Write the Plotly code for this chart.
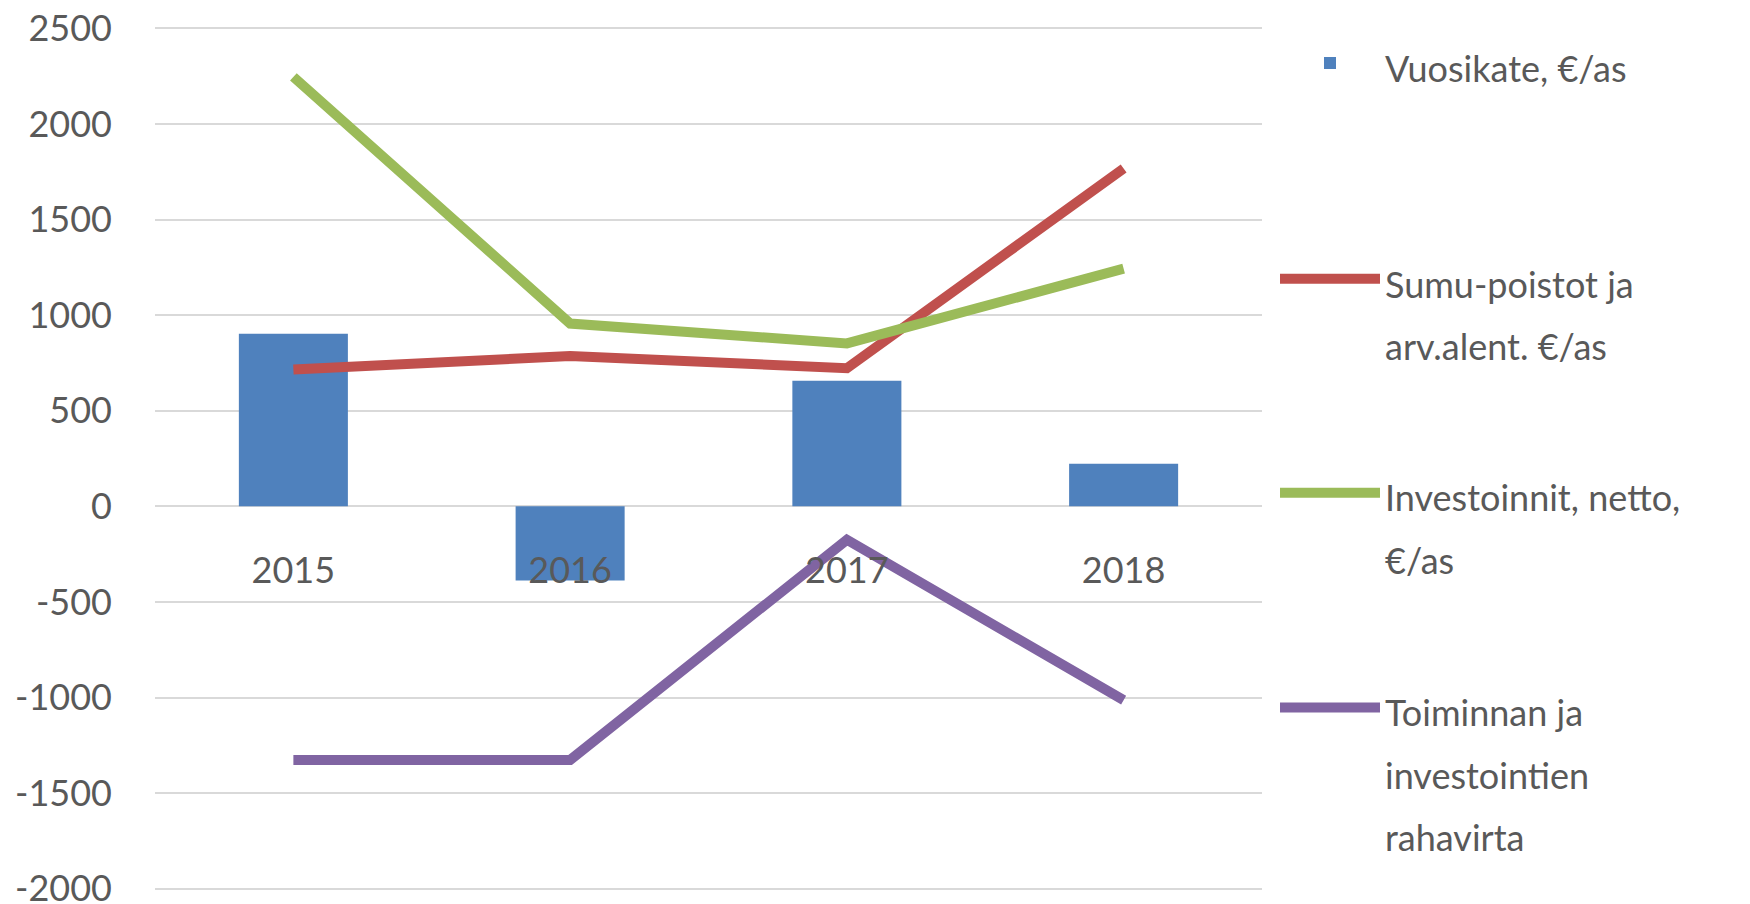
import plotly.graph_objects as go

# ---- data ----
years = ["2015", "2016", "2017", "2018"]
vuosikate = [902, -388, 656, 223]
sumu_poistot = [716, 786, 722, 1767]
investoinnit = [2246, 956, 852, 1243]
rahavirta = [-1327, -1327, -175, -1014]

names = [
    "Vuosikate, €/as",
    "Sumu-poistot ja<br>arv.alent. €/as",
    "Investoinnit, netto,<br>€/as",
    "Toiminnan ja<br>investointien<br>rahavirta",
]
colors = ["#4F81BD", "#C0504D", "#9BBB59", "#8064A2"]
y_ticks = [2500, 2000, 1500, 1000, 500, 0, -500, -1000, -1500, -2000]

# ---- layout geometry (target page pixels) ----
W, H = 1750, 904
OFF = 8                      # default body margin of the html page
TOP_TICK, BOT_TICK = 2500, -2000
TOP_PX, BOT_PX = 28, 889     # page y of the top / bottom gridlines
PAD = 12                     # data units of padding so edge gridlines show
SCALE = (BOT_PX - TOP_PX) / (TOP_TICK - BOT_TICK)
YMIN, YMAX = BOT_TICK - PAD, TOP_TICK + PAD
PL, PR = 155, 1262
PT = TOP_PX - PAD * SCALE
PB = BOT_PX + PAD * SCALE
FONT = "Lato, 'Liberation Sans', Arial, sans-serif"
GREY = "#595959"


def px_to_paper_x(px):
    return (px - PL) / (PR - PL)


def px_to_paper_y(py):
    return (PB - py) / (PB - PT)


def styled(name):
    return '<span style="font-size:36px">' + name + "</span>"


fig = go.Figure()
fig.add_trace(go.Bar(x=years, y=vuosikate, name=styled(names[0]),
                     marker=dict(color=colors[0], line=dict(width=0)),
                     legend="legend"))
series = [sumu_poistot, investoinnit, rahavirta]
for i, s in enumerate(series, start=1):
    fig.add_trace(go.Scatter(x=years, y=s, name=styled(names[i]), mode="lines",
                             line=dict(color=colors[i], width=10),
                             legend="legend" + (str(i + 1))))

legend_first_line_px = [69, 285, 499, 714]
legend_common = dict(font=dict(family=FONT, size=48, color=GREY),
                     bgcolor="rgba(0,0,0,0)", borderwidth=0,
                     xanchor="left", yanchor="top", itemwidth=100,
                     valign="top", traceorder="normal")
legends = {}
for i, cy in enumerate(legend_first_line_px):
    key = "legend" if i == 0 else "legend" + str(i + 1)
    legends[key] = dict(legend_common, x=px_to_paper_x(1275),
                        y=px_to_paper_y(cy - 44))

fig.update_layout(
    width=W, height=H,
    margin=dict(l=PL - OFF, r=W - (PR - OFF), t=PT - OFF, b=H - (PB - OFF),
                pad=0, autoexpand=False),
    paper_bgcolor="white", plot_bgcolor="white",
    font=dict(family=FONT, color=GREY),
    bargap=0.606,
    showlegend=True,
    **legends,
)

zero_pos = (0 - YMIN) / (YMAX - YMIN)
fig.update_xaxes(
    type="category", anchor="free", position=zero_pos,
    showgrid=False, showline=False, zeroline=False, ticks="",
    tickfont=dict(family=FONT, size=36, color=GREY),
    ticklabelstandoff=40,
)
fig.update_yaxes(
    range=[YMIN, YMAX], tickvals=y_ticks, ticktext=[str(v) for v in y_ticks],
    showgrid=True, gridcolor="#D9D9D9", gridwidth=2,
    zeroline=False, showline=False, ticks="",
    tickfont=dict(family=FONT, size=36, color=GREY),
    ticklabelstandoff=42, ticklabeloverflow="allow",
)

fig.write_html("out.html")
